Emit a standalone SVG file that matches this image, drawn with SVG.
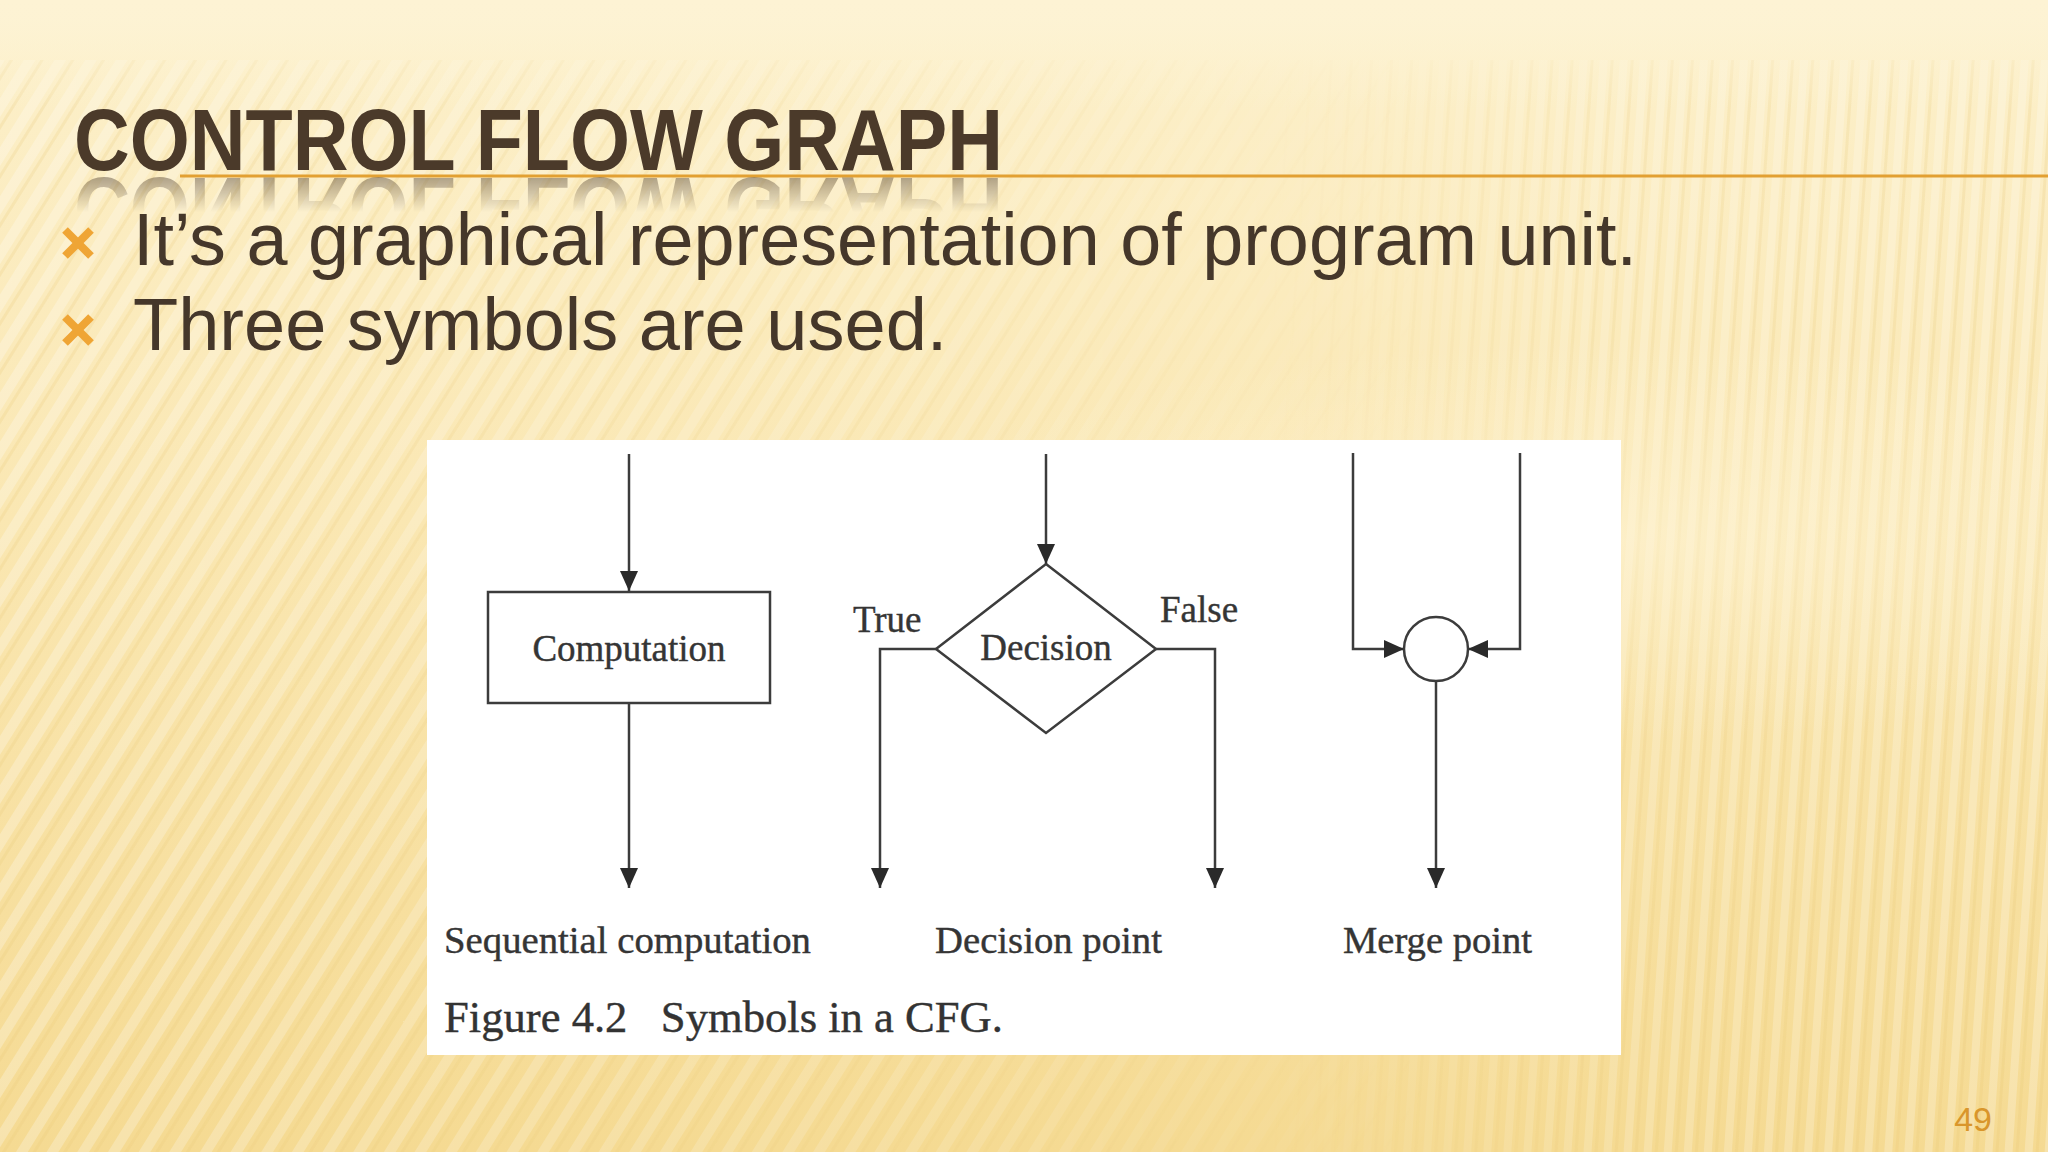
<svg xmlns="http://www.w3.org/2000/svg" width="2048" height="1152" viewBox="0 0 2048 1152">
  <defs>
    <linearGradient id="bg" x1="0" y1="0" x2="0" y2="1">
      <stop offset="0" stop-color="#FDF3D4"/>
      <stop offset="0.06" stop-color="#FCEFC8"/>
      <stop offset="0.45" stop-color="#FAE7B2"/>
      <stop offset="1" stop-color="#F5DA92"/>
    </linearGradient>
    <linearGradient id="topfade" x1="0" y1="0" x2="0" y2="1">
      <stop offset="0" stop-color="#FDF3D4" stop-opacity="1"/>
      <stop offset="1" stop-color="#FDF3D4" stop-opacity="0"/>
    </linearGradient>
    <pattern id="diag" width="26" height="26" patternUnits="userSpaceOnUse" patternTransform="rotate(32)">
      <rect x="0" y="0" width="10" height="26" fill="#FFFFFF" opacity="0.26"/>
      <rect x="14" y="0" width="3" height="26" fill="#E9C877" opacity="0.22"/>
    </pattern>
    <pattern id="vert" width="20" height="40" patternUnits="userSpaceOnUse" patternTransform="rotate(4)">
      <rect x="0" y="0" width="8" height="40" fill="#FFFFFF" opacity="0.24"/>
      <rect x="11" y="0" width="3" height="40" fill="#E8C46E" opacity="0.2"/>
    </pattern>
    <linearGradient id="leftmask" x1="0" y1="0" x2="1" y2="0">
      <stop offset="0" stop-color="#fff" stop-opacity="1"/>
      <stop offset="0.45" stop-color="#fff" stop-opacity="0.55"/>
      <stop offset="0.7" stop-color="#fff" stop-opacity="0"/>
    </linearGradient>
    <linearGradient id="rightmask" x1="0" y1="0" x2="1" y2="0">
      <stop offset="0.62" stop-color="#fff" stop-opacity="0"/>
      <stop offset="0.8" stop-color="#fff" stop-opacity="0.8"/>
      <stop offset="1" stop-color="#fff" stop-opacity="1"/>
    </linearGradient>
    <mask id="mLeft"><rect x="0" y="0" width="2048" height="1152" fill="url(#leftmask)"/></mask>
    <mask id="mRight"><rect x="0" y="0" width="2048" height="1152" fill="url(#rightmask)"/></mask>
    <radialGradient id="glow" cx="0.5" cy="0.5" r="0.5">
      <stop offset="0" stop-color="#FFF6DA" stop-opacity="0.55"/>
      <stop offset="1" stop-color="#FFF6DA" stop-opacity="0"/>
    </radialGradient>
    <linearGradient id="reflgrad" x1="0" y1="0" x2="0" y2="1">
      <stop offset="0" stop-color="#fff" stop-opacity="0.45"/>
      <stop offset="1" stop-color="#fff" stop-opacity="0"/>
    </linearGradient>
    <mask id="reflMask" maskUnits="userSpaceOnUse" x="0" y="0" width="2048" height="1152">
      <rect x="0" y="176" width="1100" height="36" fill="url(#reflgrad)"/>
    </mask>
    <marker id="arr" viewBox="0 0 20 20" refX="20" refY="10" markerWidth="20" markerHeight="20" markerUnits="userSpaceOnUse" orient="auto">
      <path d="M0,1 L20,10 L0,19 Z" fill="#2A2A2A"/>
    </marker>
    <style>
      .title { font-family: "Liberation Sans", Arial, sans-serif; font-weight: bold; font-size: 88px; fill: #4B3A2A; }
      .bullet { font-family: "Liberation Sans", Arial, sans-serif; font-size: 74px; fill: #45372A; }
      .fig { font-family: "Liberation Serif", "Times New Roman", serif; font-size: 37px; fill: #353535; stroke: #353535; stroke-width: 0.4; }
      .cap { font-family: "Liberation Serif", "Times New Roman", serif; font-size: 44px; fill: #333333; stroke: #333333; stroke-width: 0.4; }
      .ln { fill: none; stroke: #3C3C3C; stroke-width: 2.5; }
      .shape { fill: #FFFFFF; stroke: #3C3C3C; stroke-width: 2.5; }
      .mark { stroke: #EFA535; stroke-width: 8; stroke-linecap: butt; }
    </style>
  </defs>

  <!-- background -->
  <rect x="0" y="0" width="2048" height="1152" fill="url(#bg)"/>
  <rect x="0" y="60" width="2048" height="1092" fill="url(#diag)" mask="url(#mLeft)"/>
  <rect x="0" y="60" width="2048" height="1092" fill="url(#vert)" mask="url(#mRight)"/>
  <rect x="0" y="0" width="2048" height="110" fill="url(#topfade)"/>
  <ellipse cx="1620" cy="540" rx="760" ry="200" fill="url(#glow)"/>

  <!-- title -->
  <g id="title">
    <line x1="180" y1="176" x2="2048" y2="176" stroke="#E2A032" stroke-width="3"/>
    <text class="title" x="74" y="170" textLength="929" lengthAdjust="spacingAndGlyphs">CONTROL FLOW GRAPH</text>
    <g mask="url(#reflMask)">
      <text class="title" x="74" y="170" textLength="929" lengthAdjust="spacingAndGlyphs" transform="matrix(1 0 0 -1 0 348)">CONTROL FLOW GRAPH</text>
    </g>
  </g>

  <!-- bullets -->
  <g id="bullets">
    <g transform="translate(78,243)">
      <line class="mark" x1="-13" y1="-13" x2="13" y2="13"/>
      <line class="mark" x1="13" y1="-13" x2="-13" y2="13"/>
    </g>
    <text class="bullet" x="133" y="265" textLength="1504" lengthAdjust="spacingAndGlyphs">It’s a graphical representation of program unit.</text>
    <g transform="translate(78,330)">
      <line class="mark" x1="-13" y1="-13" x2="13" y2="13"/>
      <line class="mark" x1="13" y1="-13" x2="-13" y2="13"/>
    </g>
    <text class="bullet" x="133" y="350">Three symbols are used.</text>
  </g>

  <!-- figure panel -->
  <rect id="figure-panel" x="427" y="440" width="1194" height="615" fill="#FFFFFF"/>

  <!-- nodes -->
  <g id="node-computation">
    <rect class="shape" x="488" y="592" width="282" height="111"/>
    <text class="fig" x="629" y="661" text-anchor="middle" font-size="38">Computation</text>
  </g>
  <g id="node-decision">
    <polygon class="shape" points="1046,564 1156,649 1046,733 936,649"/>
    <text class="fig" x="1046" y="660" text-anchor="middle" font-size="38">Decision</text>
  </g>
  <g id="node-merge">
    <circle class="shape" cx="1436" cy="649" r="32"/>
  </g>

  <!-- connectors -->
  <g id="connectors">
    <line class="ln" x1="629" y1="454" x2="629" y2="591" marker-end="url(#arr)"/>
    <line class="ln" x1="629" y1="703" x2="629" y2="888" marker-end="url(#arr)"/>
    <line class="ln" x1="1046" y1="454" x2="1046" y2="564" marker-end="url(#arr)"/>
    <polyline class="ln" points="936,649 880,649 880,888" marker-end="url(#arr)"/>
    <polyline class="ln" points="1156,649 1215,649 1215,888" marker-end="url(#arr)"/>
    <polyline class="ln" points="1353,453 1353,649 1404,649" marker-end="url(#arr)"/>
    <polyline class="ln" points="1520,453 1520,649 1468,649" marker-end="url(#arr)"/>
    <line class="ln" x1="1436" y1="681" x2="1436" y2="888" marker-end="url(#arr)"/>
  </g>

  <!-- figure labels -->
  <g id="labels">
    <text class="fig" x="853" y="632">True</text>
    <text class="fig" x="1160" y="622">False</text>
    <text class="fig" x="444" y="953" textLength="367" lengthAdjust="spacingAndGlyphs">Sequential computation</text>
    <text class="fig" x="935" y="953" textLength="227" lengthAdjust="spacingAndGlyphs">Decision point</text>
    <text class="fig" x="1343" y="953" textLength="189" lengthAdjust="spacingAndGlyphs">Merge point</text>
    <text class="cap" x="444" y="1032" textLength="559" lengthAdjust="spacingAndGlyphs" xml:space="preserve">Figure 4.2   Symbols in a CFG.</text>
  </g>

  <!-- page number -->
  <text id="page-number" x="1992" y="1131" text-anchor="end" font-family="Liberation Sans, Arial, sans-serif" font-size="34" fill="#D9962B">49</text>
</svg>
